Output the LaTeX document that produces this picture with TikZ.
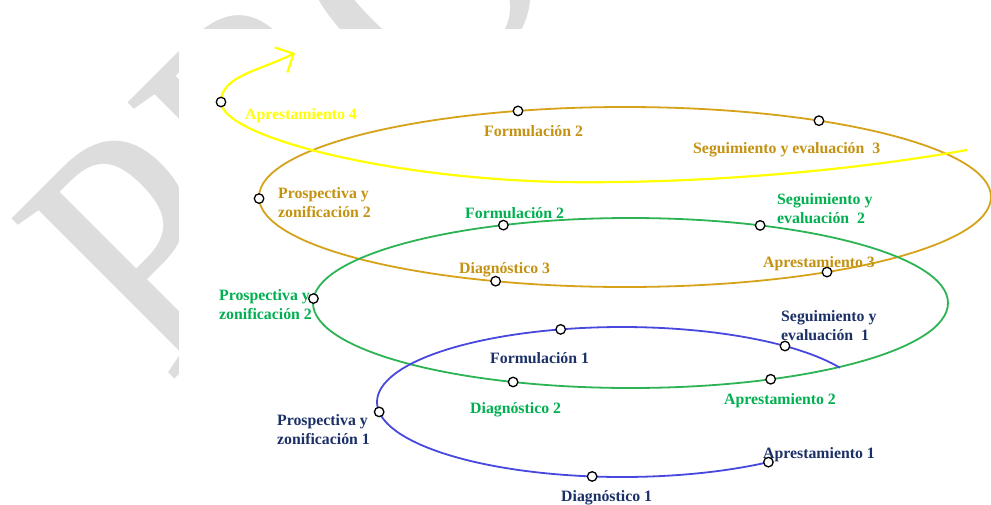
\documentclass[tikz,border=0pt]{standalone}
\usepackage{fontspec}
\setmainfont{Liberation Serif}
\usetikzlibrary{arrows.meta}

\definecolor{wmgray}{RGB}{221,221,221}
\definecolor{spyellow}{RGB}{255,255,0}
\definecolor{spgold}{RGB}{214,162,26}
\definecolor{spgoldtext}{RGB}{196,146,16}
\definecolor{spgreen}{RGB}{44,180,84}
\definecolor{spgreentext}{RGB}{0,176,80}
\definecolor{spblue}{RGB}{72,72,222}
\definecolor{spbluetext}{RGB}{28,48,104}

% two-line label, baseline on the first line
\newcommand{\twolines}[2]{\begin{tabular}[t]{@{}l@{}}#1\\#2\end{tabular}}

\begin{document}
\begin{tikzpicture}[x=1pt,y=-1pt,
  loop/.style={line width=1.8pt},
  stage/.style={circle,draw=black,fill=white,line width=1.3pt,minimum size=9.5pt,inner sep=0pt},
  lbl/.style={anchor=base west,inner sep=0pt,font=\bfseries\fontsize{15.8}{19}\selectfont},
]
\useasboundingbox (0,0) rectangle (991,504);

% faint watermark behind the drawing area
\node[rotate=45,xscale=0.85,anchor=base west,inner sep=0pt,text=wmgray,
      font=\fontsize{349}{349}\selectfont] (wmark) at (167,387) {PRO};
\fill[white] (179,29) rectangle (991,504);

% centres of the three loops
\coordinate (gc) at (625,197);
\coordinate (nc) at (630.5,303);
\coordinate (bc) at (622,402);

% stage points, loop 3 (gold)
\coordinate (g-for) at ([shift={(gc)}]253:366 and 90);
\coordinate (g-seg) at ([shift={(gc)}]302:366 and 90);
\coordinate (g-pro) at ([shift={(gc)}]179:366 and 90);
\coordinate (g-dia) at ([shift={(gc)}]110.7:366 and 90);
\coordinate (g-apr) at ([shift={(gc)}]56.5:366 and 90);
% stage points, loop 2 (green)
\coordinate (n-for) at ([shift={(nc)}]246.4:317.5 and 85);
\coordinate (n-seg) at ([shift={(nc)}]294.1:317.5 and 85);
\coordinate (n-pro) at ([shift={(nc)}]183:317.5 and 85);
\coordinate (n-dia) at ([shift={(nc)}]111.7:317.5 and 85);
\coordinate (n-apr) at ([shift={(nc)}]63.8:317.5 and 85);
% stage points, loop 1 (blue)
\coordinate (b-for) at ([shift={(bc)}]255.5:245 and 75);
\coordinate (b-seg) at ([shift={(bc)}]311.7:245 and 75);
\coordinate (b-pro) at ([shift={(bc)}]172.4:245 and 75);
\coordinate (b-dia) at ([shift={(bc)}]97:245 and 75);
\coordinate (b-apr) at ([shift={(bc)}]53.3:245 and 75);
% loop 4 (yellow)
\coordinate (y-start) at (967,150);
\coordinate (y-apr) at (221,102);
\coordinate (y-end) at (295,53);

% the spiral
\draw[loop,spgold] (gc) ellipse [x radius=366,y radius=90];
\draw[loop,spgreen] (nc) ellipse [x radius=317.5,y radius=85];
\draw[loop,spblue] (b-apr) arc[start angle=53.3,end angle=332.8,x radius=245,y radius=75];
\draw[line width=2.2pt,spyellow,-{Straight Barb[length=14pt,width=28pt]}]
  (y-start) .. controls (850,171) and (700,184) .. (560,182)
            .. controls (380,178) and (221,135) .. (y-apr)
            .. controls (221,76) and (259,71) .. (y-end);

% stage markers
\foreach \p in {g-for,g-seg,g-pro,g-dia,g-apr,n-for,n-seg,n-pro,n-dia,n-apr,
                b-for,b-seg,b-pro,b-dia,b-apr,y-apr}
  \node[stage] (m-\p) at (\p) {};

% labels, loop 4
\node[lbl,text=spyellow] (t-y-apr) at (245,119) {Aprestamiento 4};
% labels, loop 3
\node[lbl,text=spgoldtext] (t-g-for) at (484,136) {Formulación 2};
\node[lbl,text=spgoldtext] (t-g-pro) at (278,198) {\twolines{Prospectiva y}{zonificación 2}};
\node[lbl,text=spgoldtext] (t-g-seg) at (693,153) {Seguimiento y evaluación\ \ 3};
\node[lbl,text=spgoldtext] (t-g-apr) at (763,267) {Aprestamiento 3};
\node[lbl,text=spgoldtext] (t-g-dia) at (459,273) {Diagnóstico 3};
% labels, loop 2
\node[lbl,text=spgreentext] (t-n-for) at (465,218) {Formulación 2};
\node[lbl,text=spgreentext] (t-n-seg) at (777,204) {\twolines{Seguimiento y}{evaluación\ \ 2}};
\node[lbl,text=spgreentext] (t-n-pro) at (219,300) {\twolines{Prospectiva y}{zonificación 2}};
\node[lbl,text=spgreentext] (t-n-apr) at (724,404) {Aprestamiento 2};
\node[lbl,text=spgreentext] (t-n-dia) at (470,413) {Diagnóstico 2};
% labels, loop 1
\node[lbl,text=spbluetext] (t-b-seg) at (781,321) {\twolines{Seguimiento y}{evaluación\ \ 1}};
\node[lbl,text=spbluetext] (t-b-apr) at (763,458) {Aprestamiento 1};
\node[lbl,text=spbluetext] (t-b-for) at (490,363) {Formulación 1};
\node[lbl,text=spbluetext] (t-b-pro) at (277,425) {\twolines{Prospectiva y}{zonificación 1}};
\node[lbl,text=spbluetext] (t-b-dia) at (561,501) {Diagnóstico 1};
\end{tikzpicture}
\end{document}
